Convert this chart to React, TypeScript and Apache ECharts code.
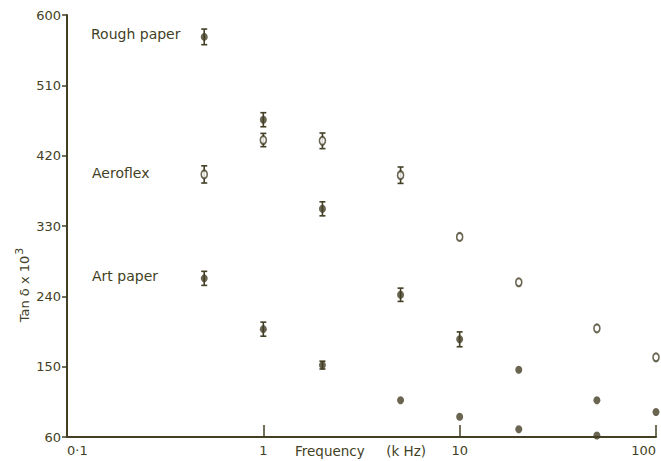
import React, { useEffect, useRef } from "react";
import * as echarts from "echarts";

const frequencies = [0.5, 1, 2, 5, 10, 20, 50, 100];
const roughPaper = [572, 466, 352, 242, 185, 146, 107, 92];
const roughErr = [10, 9, 9, 8.5, 9.5, 0, 0, 0];
const aeroflex = [396, 440, 439, 395, 316, 258, 199, 162];
const aeroErr = [11, 8.5, 10, 10.5, 0, 0, 0, 0];
const artFreqs = [0.5, 1, 2, 5, 10, 20, 50];
const artPaper = [263, 198, 152, 107, 86, 70, 62];
const artErr = [9, 9, 5, 0, 0, 0, 0];
const yTicks = [60, 150, 240, 330, 420, 510, 600];
const seriesNames = ["Rough paper", "Aeroflex", "Art paper"];

const INK = "#433f25";
const FONT = "DejaVu Sans";

function errData(xs: number[], ys: number[], es: number[]) {
  const out: number[][] = [];
  xs.forEach((x, i) => {
    if (es[i] > 0) out.push([x, ys[i] - es[i], ys[i] + es[i]]);
  });
  return out;
}

function pts(xs: number[], ys: number[]) {
  return xs.map((x, i) => [x, ys[i]]);
}

export default function App() {
  const ref = useRef<HTMLDivElement>(null);
  useEffect(() => {
    if (!ref.current) return;
    const chart = echarts.init(ref.current, null, { renderer: "svg" });
    const errRender = (params: any, api: any) => {
      const x = api.value(0);
      const p1 = api.coord([x, api.value(1)]);
      const p2 = api.coord([x, api.value(2)]);
      const w = 3;
      const style = { stroke: INK, lineWidth: 1.6 };
      return {
        type: "group",
        children: [
          { type: "line", shape: { x1: p1[0], y1: p1[1], x2: p2[0], y2: p2[1] }, style },
          { type: "line", shape: { x1: p1[0] - w, y1: p1[1], x2: p1[0] + w, y2: p1[1] }, style },
          { type: "line", shape: { x1: p2[0] - w, y1: p2[1], x2: p2[0] + w, y2: p2[1] }, style },
        ],
      };
    };
    const allErr = [
      ...errData(frequencies, roughPaper, roughErr),
      ...errData(frequencies, aeroflex, aeroErr),
      ...errData(artFreqs, artPaper, artErr),
    ];
    const txt = (s: string, left: number, top: number) => ({
      type: "text",
      left,
      top,
      style: { text: s, fill: INK, font: `14px ${FONT}` },
    });
    chart.setOption({
      animation: false,
      backgroundColor: "#ffffff",
      grid: { left: 67, right: 5, top: 15, bottom: 24, containLabel: false, outerBoundsMode: "none" },
      xAxis: {
        type: "log",
        logBase: 10,
        min: 0.1,
        max: 100,
        axisLine: { show: true, onZero: false, lineStyle: { color: INK, width: 2 } },
        axisTick: { show: true, inside: true, length: 12, lineStyle: { color: INK, width: 1.5 } },
        splitLine: { show: false },
        minorTick: { show: false },
        axisLabel: {
          color: INK,
          fontFamily: FONT,
          fontSize: 13,
          margin: 7,
          alignMinLabel: "left",
          alignMaxLabel: "right",
          formatter: (v: number) => {
            if (v < 0.5) return "0·1";
            return String(Math.round(v));
          },
        },
      },
      yAxis: {
        type: "value",
        min: 60,
        max: 600,
        axisLine: { show: true, lineStyle: { color: INK, width: 2 } },
        axisTick: { show: true, inside: false, length: 5, customValues: yTicks, lineStyle: { color: INK, width: 1.5 } },
        splitLine: { show: false },
        axisLabel: {
          color: INK,
          fontFamily: FONT,
          fontSize: 13,
          margin: 6,
          customValues: yTicks,
        },
      },
      graphic: [
        txt(seriesNames[0], 91, 27),
        txt(seriesNames[1], 92, 166),
        txt(seriesNames[2], 92, 269),
        {
          type: "text",
          left: 295,
          top: 444,
          style: { text: "Frequency     (k Hz)", fill: INK, font: `13.5px ${FONT}` },
        },
        {
          type: "text",
          x: 24,
          y: 285,
          rotation: Math.PI / 2,
          style: {
            text: "Tan δ x 10{s|3}",
            fill: INK,
            font: `13px ${FONT}`,
            align: "center",
            verticalAlign: "middle",
            rich: { s: { fontSize: 11, fontFamily: FONT, fill: INK, padding: [0, 0, 10, 1] } },
          },
        },
      ],
      series: [
        {
          type: "custom",
          name: "errors",
          renderItem: errRender,
          data: allErr,
          encode: { x: 0, y: [1, 2] },
          z: 1,
        },
        {
          type: "scatter",
          name: seriesNames[0],
          data: pts(frequencies, roughPaper),
          symbol: "circle",
          symbolSize: [7, 8],
          itemStyle: { color: INK },
          z: 3,
        },
        {
          type: "scatter",
          name: seriesNames[1],
          data: pts(frequencies, aeroflex),
          symbol: "circle",
          symbolSize: [6, 8],
          itemStyle: { color: "#ffffff", borderColor: INK, borderWidth: 1.8 },
          z: 3,
        },
        {
          type: "scatter",
          name: seriesNames[2],
          data: pts(artFreqs, artPaper),
          symbol: "circle",
          symbolSize: [7, 8],
          itemStyle: { color: INK },
          z: 3,
        },
      ],
    });
    return () => chart.dispose();
  }, []);
  return (
    <div
      ref={ref}
      style={{ position: "fixed", left: 0, top: 0, width: 661, height: 461, background: "#fff" }}
    />
  );
}
